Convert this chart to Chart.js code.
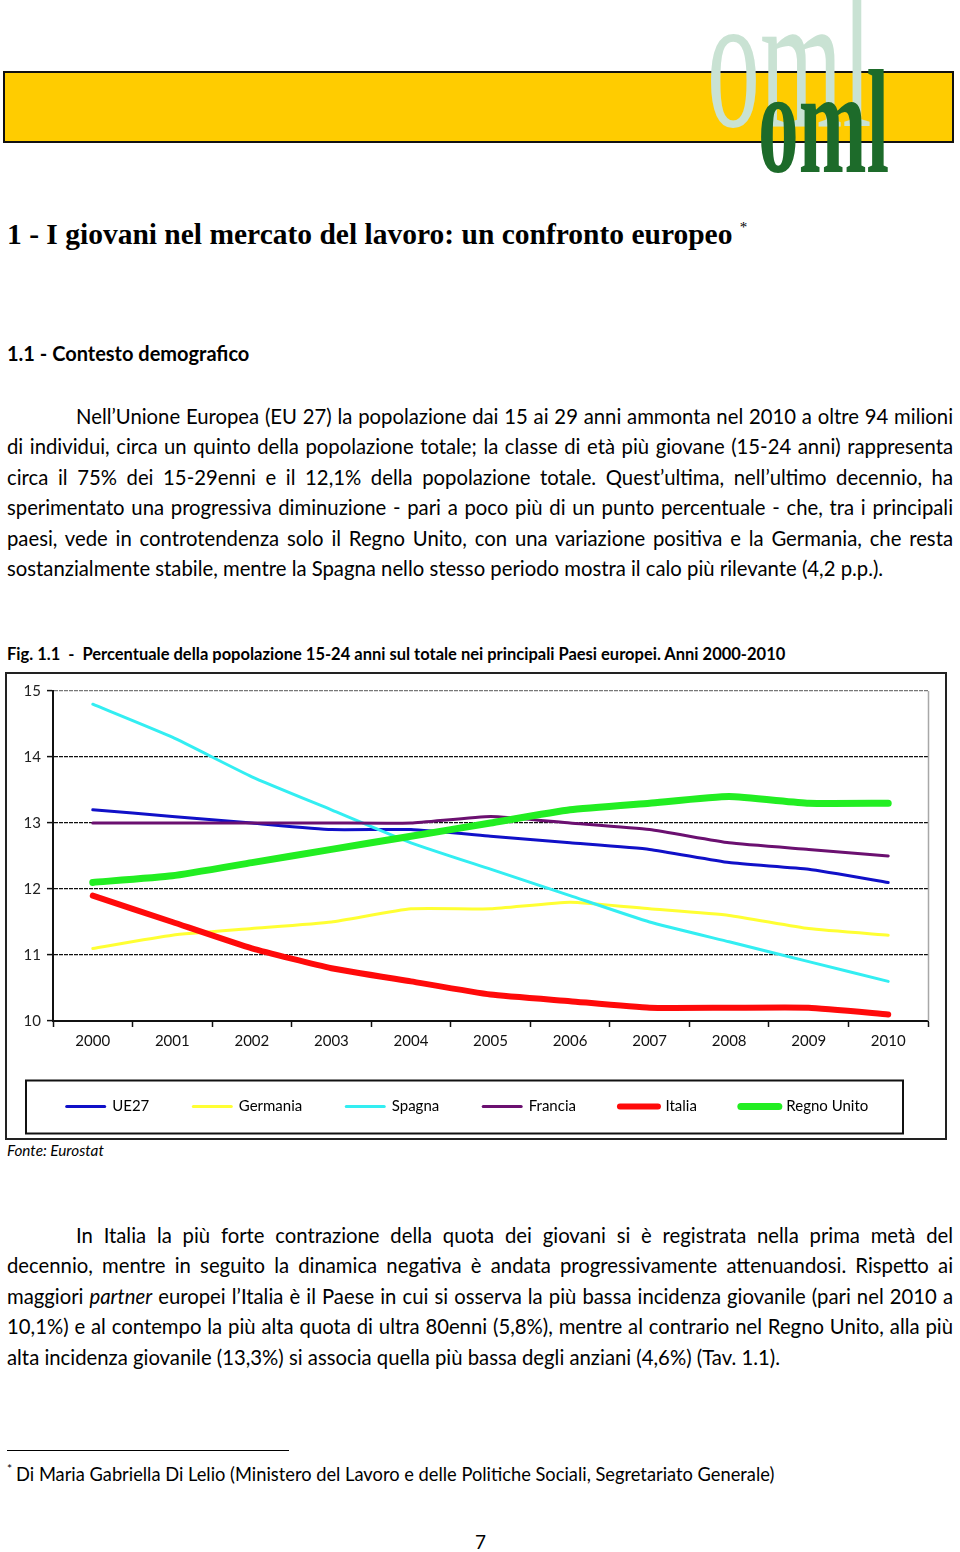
<!DOCTYPE html>
<html lang="it">
<head>
<meta charset="utf-8">
<script src="https://cdn.jsdelivr.net/npm/chart.js@4/dist/chart.umd.min.js"></script>
<style>
  html, body { margin:0; padding:0; background:#fff; }
  body { width:960px; height:1552px; position:relative; overflow:hidden; font-family: Lato, "Open Sans", sans-serif; color:#000; }
  .abs { position:absolute; }
  #band { left:3px; top:71px; width:947px; height:68px; background:#FFCC00; border:2px solid #111; }
  .logo { position:absolute; font-family:"Liberation Serif", serif; white-space:nowrap; transform-origin:0 0; line-height:1; }
  #logo1 { left:707px; top:-38px; font-size:196px; color:#c9e2d3; transform:scaleX(0.54); }
  #logo2 { left:758px; top:48px; font-size:148px; color:#1d6b2a; font-weight:bold; transform:scaleX(0.55); }
  #title { left:7px; top:218px; font-family:"Liberation Serif", serif; font-weight:bold; font-size:29.5px; white-space:nowrap; }
  #title sup { font-size:15px; font-weight:normal; vertical-align:12px; }
  #h11 { left:7px; top:341px; font-weight:bold; font-size:20px; white-space:nowrap; }
  .para { position:absolute; left:7px; width:946px; font-size:20.3px; }
  .para div { height:30.4px; line-height:30.4px; white-space:nowrap; }
  .para div.j { text-align:justify; text-align-last:justify; white-space:normal; overflow:hidden; }
  .para div.ind { padding-left:69px; }
  #fig { left:7px; top:644px; font-weight:bold; font-size:16.5px; white-space:nowrap; }
  #chartbox { left:5px; top:672px; width:938px; height:464px; border:2px solid #222; }
  #fonte { left:7px; top:1141px; font-style:italic; font-size:15.3px; }
  #rule { left:7px; top:1450px; width:282px; height:1px; background:#000; }
  #foot { left:7px; top:1461px; font-size:18.3px; white-space:nowrap; }
  #foot sup { font-size:12px; vertical-align:8px; margin-right:4px; }
  #pnum { left:475px; top:1530px; font-size:19px; }
</style>
</head>
<body>
<div id="band" class="abs"></div>
<span id="logo1" class="logo">oml</span>
<span id="logo2" class="logo">oml</span>

<div id="title" class="abs">1 - I giovani nel mercato del lavoro: un confronto europeo <sup>*</sup></div>
<div id="h11" class="abs">1.1 - Contesto demografico</div>

<div class="para" style="top:401px;">
  <div class="j ind">Nell’Unione Europea (EU 27) la popolazione dai 15 ai 29 anni ammonta nel 2010 a oltre 94 milioni</div>
  <div class="j">di individui, circa un quinto della popolazione totale; la classe di età più giovane (15-24 anni) rappresenta</div>
  <div class="j">circa il 75% dei 15-29enni e il 12,1% della popolazione totale. Quest’ultima, nell’ultimo decennio, ha</div>
  <div class="j">sperimentato una progressiva diminuzione - pari a poco più di un punto percentuale - che, tra i principali</div>
  <div class="j">paesi, vede in controtendenza solo il Regno Unito, con una variazione positiva e la Germania, che resta</div>
  <div>sostanzialmente stabile, mentre la Spagna nello stesso periodo mostra il calo più rilevante (4,2 p.p.).</div>
</div>

<div id="fig" class="abs">Fig. 1.1&nbsp; - &nbsp;Percentuale della popolazione 15-24 anni sul totale nei principali Paesi europei. Anni 2000-2010</div>

<div id="chartbox" class="abs"><canvas id="c" width="938" height="464"></canvas></div>

<div id="fonte" class="abs">Fonte: Eurostat</div>

<div class="para" style="top:1220px;">
  <div class="j ind">In Italia la più forte contrazione della quota dei giovani si è registrata nella prima metà del</div>
  <div class="j">decennio, mentre in seguito la dinamica negativa è andata progressivamente attenuandosi. Rispetto ai</div>
  <div class="j">maggiori <i>partner</i> europei l’Italia è il Paese in cui si osserva la più bassa incidenza giovanile (pari nel 2010 a</div>
  <div class="j">10,1%) e al contempo la più alta quota di ultra 80enni (5,8%), mentre al contrario nel Regno Unito, alla più</div>
  <div>alta incidenza giovanile (13,3%) si associa quella più bassa degli anziani (4,6%) (Tav. 1.1).</div>
</div>

<div id="rule" class="abs"></div>
<div id="foot" class="abs"><sup>*</sup>Di Maria Gabriella Di Lelio (Ministero del Lavoro e delle Politiche Sociali, Segretariato Generale)</div>
<div id="pnum" class="abs">7</div>

<script>
const years = ['2000','2001','2002','2003','2004','2005','2006','2007','2008','2009','2010'];
const ue27       = [13.2, 13.1, 13.0, 12.9, 12.9, 12.8, 12.7, 12.6, 12.4, 12.3, 12.1];
const germania   = [11.1, 11.3, 11.4, 11.5, 11.7, 11.7, 11.8, 11.7, 11.6, 11.4, 11.3];
const spagna     = [14.8, 14.3, 13.7, 13.2, 12.7, 12.3, 11.9, 11.5, 11.2, 10.9, 10.6];
const francia    = [13.0, 13.0, 13.0, 13.0, 13.0, 13.1, 13.0, 12.9, 12.7, 12.6, 12.5];
const italia     = [11.9, 11.5, 11.1, 10.8, 10.6, 10.4, 10.3, 10.2, 10.2, 10.2, 10.1];
const regnoUnito = [12.1, 12.2, 12.4, 12.6, 12.8, 13.0, 13.2, 13.3, 13.4, 13.3, 13.3];
const seriesNames = ['UE27', 'Germania', 'Spagna', 'Francia', 'Italia', 'Regno Unito'];
const yMin = 10, yMax = 15, yStep = 1;

const seriesValues = [ue27, germania, spagna, francia, italia, regnoUnito];
const colors = ['#1010C8', '#FFFF33', '#33EEF2', '#6B1070', '#FF0A0A', '#22EE22'];
const widths = [3, 3, 3, 3, 6, 7];

const datasets = seriesNames.map((n, i) => ({
  label: n,
  data: seriesValues[i],
  borderColor: colors[i],
  backgroundColor: colors[i],
  borderWidth: widths[i],
  borderCapStyle: 'round',
  borderJoinStyle: 'round',
  pointRadius: 0,
  pointHoverRadius: 0,
  tension: 0.15,
  fill: false,
  order: 10 - i
}));

const decor = {
  id: 'decor',
  afterDraw(chart) {
    const ctx = chart.ctx, a = chart.chartArea;
    ctx.save();
    ctx.strokeStyle = '#a8a8a8';
    ctx.lineWidth = 1.5;
    ctx.beginPath();
    ctx.moveTo(a.right + 0.5, a.top);
    ctx.lineTo(a.right + 0.5, a.bottom);
    ctx.stroke();
    const lg = chart.legend;
    if (lg && lg.legendHitBoxes && lg.legendHitBoxes.length) {
      const hb = lg.legendHitBoxes[0];
      const cy = hb.top + hb.height / 2;
      ctx.strokeStyle = '#111';
      ctx.lineWidth = 2;
      ctx.strokeRect(19, cy - 26, 877, 53);
    }
    ctx.restore();
  }
};

new Chart(document.getElementById('c'), {
  type: 'line',
  data: { labels: years, datasets },
  plugins: [decor],
  options: {
    responsive: false,
    animation: false,
    events: [],
    layout: { padding: { left: 0, right: 17, top: 17, bottom: 14 } },
    plugins: {
      tooltip: { enabled: false },
      title: { display: false },
      legend: {
        position: 'bottom',
        labels: {
          font: { family: 'Lato', size: 15 },
          color: '#111',
          usePointStyle: true,
          pointStyleWidth: 38,
          padding: 44,
          generateLabels(chart) {
            return chart.data.datasets.map((d, i) => ({
              text: d.label,
              fillStyle: d.borderColor,
              strokeStyle: d.borderColor,
              lineWidth: d.borderWidth,
              lineCap: 'round',
              pointStyle: 'line',
              hidden: false,
              datasetIndex: i
            }));
          }
        }
      }
    },
    scales: {
      x: {
        type: 'category',
        offset: true,
        grid: { display: true, drawOnChartArea: false, drawTicks: true, tickLength: 6, offset: true, tickColor: '#111', tickWidth: 1.5 },
        border: { display: true, color: '#111', width: 2 },
        ticks: { color: '#111', font: { family: 'Lato', size: 15 }, padding: 5, maxRotation: 0, autoSkip: false }
      },
      y: {
        min: yMin, max: yMax,
        afterFit(scale) { scale.width = 46; },
        grid: {
          color: (ctx) => ctx.tick && ctx.tick.value === yMax ? '#777' : '#111',
          lineWidth: 1.2,
          drawTicks: true, tickLength: 6, tickColor: '#111', tickWidth: 1.5
        },
        border: { display: true, color: '#111', width: 2, dash: [4, 1] },
        ticks: { stepSize: yStep, color: '#222', font: { family: 'Lato', size: 15 }, padding: 6 }
      }
    }
  }
});
</script>
</body>
</html>
